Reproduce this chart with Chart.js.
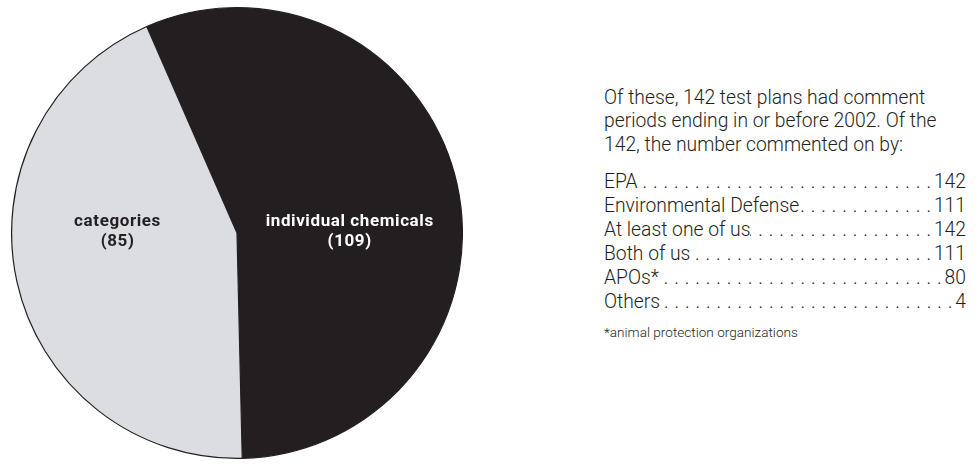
<!DOCTYPE html>
<html>
<head>
<meta charset="utf-8">
<script src="https://cdn.jsdelivr.net/npm/chart.js@4"></script>
<style>
  html, body { margin: 0; padding: 0; background: #fff; }
  body { width: 977px; height: 472px; position: relative; overflow: hidden; font-family: Roboto, "DejaVu Sans", sans-serif; color: #231f20; }
  #pieBox { position: absolute; left: 11px; top: 6px; width: 452px; height: 454px; }
  #side { position: absolute; left: 604px; top: 86px; width: 362px; font-weight: 300; font-size: 19.3px; }
  .intro { margin: 0; white-space: nowrap; line-height: 23.3px; }
  .list { margin-top: 14.5px; line-height: 24px; }
  .row { display: flex; align-items: baseline; white-space: nowrap; }
  .row .lab { flex: none; }
  .row .dots { flex: 1 1 auto; overflow: hidden; direction: rtl; letter-spacing: 5.9px; margin-right: -3px; }
  .row .val { flex: none; }
  .note { font-size: 13.6px; line-height: 16px; margin-top: 10px; }
</style>
</head>
<body>
<div id="pieBox"><canvas id="pie"></canvas></div>
<div id="side"></div>
<script>
// ---- data ----
const sliceLabels = ["individual chemicals", "categories"];
const sliceValues = [109, 85];
const sliceColors = ["#231f20", "#dcdde0"];
const labelColors = ["#ffffff", "#231f20"];

const introLines = [
  "Of these, 142 test plans had comment",
  "periods ending in or before 2002. Of the",
  "142, the number commented on by:"
];
const listLabels = ["EPA", "Environmental Defense", "At least one of us", "Both of us", "APOs*", "Others"];
const listValues = [142, 111, 142, 111, 80, 4];
const footnote = "*animal protection organizations";

// ---- side text ----
const side = document.getElementById('side');
const p = document.createElement('div');
p.className = 'intro';
introLines.forEach(t => { const d = document.createElement('div'); d.textContent = t; p.appendChild(d); });
side.appendChild(p);
const list = document.createElement('div');
list.className = 'list';
listLabels.forEach((l, i) => {
  const r = document.createElement('div');
  r.className = 'row';
  const a = document.createElement('span'); a.className = 'lab'; a.textContent = l;
  const d = document.createElement('span'); d.className = 'dots'; d.textContent = '.'.repeat(80);
  const v = document.createElement('span'); v.className = 'val'; v.textContent = listValues[i];
  r.appendChild(a); r.appendChild(d); r.appendChild(v);
  list.appendChild(r);
});
side.appendChild(list);
const n = document.createElement('div');
n.className = 'note';
n.textContent = footnote;
side.appendChild(n);

// ---- pie labels plugin ----
const sliceLabelPlugin = {
  id: 'sliceLabels',
  afterDatasetsDraw(chart) {
    const ctx = chart.ctx;
    const meta = chart.getDatasetMeta(0);
    ctx.save();
    ctx.font = "bold 17px Roboto, 'DejaVu Sans', sans-serif";
    if ('letterSpacing' in ctx) ctx.letterSpacing = '0.6px';
    ctx.textAlign = 'center';
    ctx.textBaseline = 'middle';
    meta.data.forEach((arc, i) => {
      const r = arc.outerRadius;
      const mid = (arc.startAngle + arc.endAngle) / 2;
      const side = Math.cos(mid) >= 0 ? 1 : -1;
      const x = arc.x + side * (i === 0 ? 0.50 : 0.53) * r;
      const y = arc.y - 11;
      ctx.fillStyle = labelColors[i];
      ctx.fillText(sliceLabels[i], x, y);
      ctx.fillText('(' + sliceValues[i] + ')', x, y + 20);
    });
    ctx.restore();
  }
};

new Chart(document.getElementById('pie'), {
  type: 'pie',
  data: {
    labels: sliceLabels,
    datasets: [{
      data: sliceValues,
      backgroundColor: sliceColors,
      borderColor: '#231f20',
      borderWidth: 1.2,
      hoverOffset: 0
    }]
  },
  options: {
    responsive: true,
    maintainAspectRatio: false,
    animation: false,
    events: [],
    rotation: -23.6,
    layout: { padding: 0 },
    plugins: { legend: { display: false }, tooltip: { enabled: false } }
  },
  plugins: [sliceLabelPlugin]
});
</script>
</body>
</html>
